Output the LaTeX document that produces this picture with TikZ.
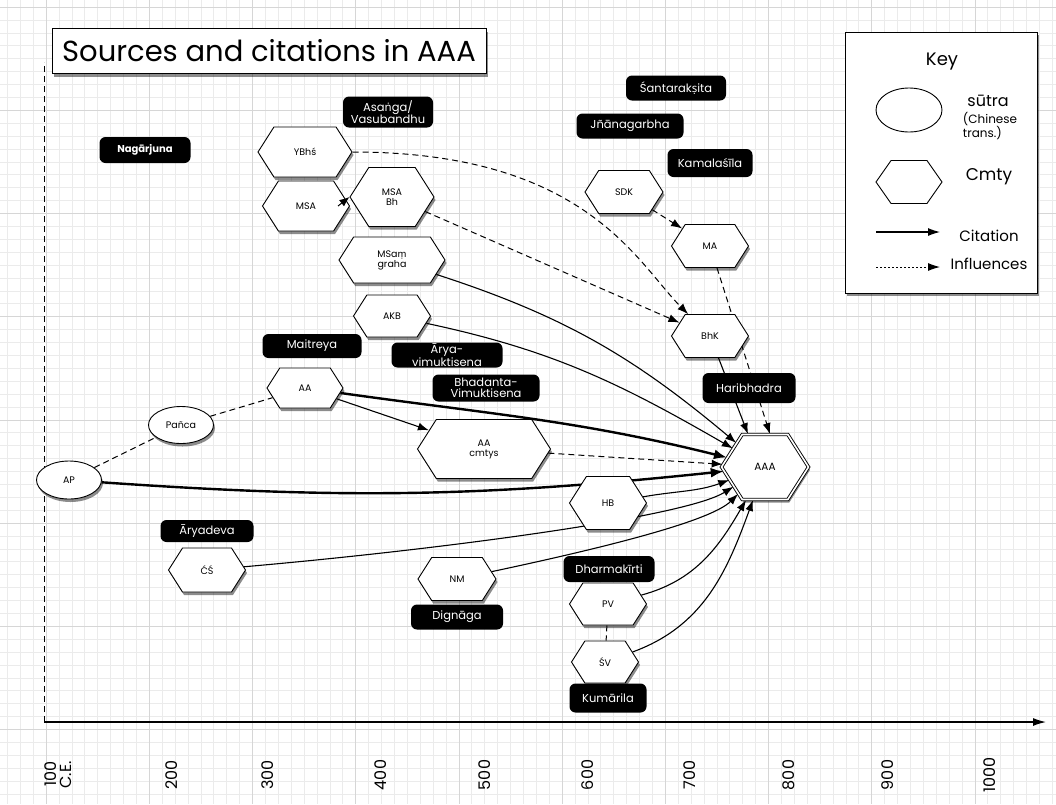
\documentclass[tikz,border=0pt]{standalone}
\usepackage{fontspec}
\setmainfont{Poppins}
\newfontfamily\iastfont{Noto Sans}
\newcommand{\iast}[1]{{\iastfont #1}}
\usetikzlibrary{shapes.geometric,shapes.symbols,arrows.meta,shadows}

\pgfdeclarelayer{paper}
\pgfdeclarelayer{links}
\pgfsetlayers{paper,links,main}

\tikzset{
  person/.style={fill=black, text=white, rounded corners=6pt, align=center, inner sep=1pt,
    font=\fontsize{11.5}{11}\selectfont},
  soft shadow/.style={drop shadow={fill=black, opacity=0.45, shadow xshift=1.5pt, shadow yshift=-3pt}},
  cmty/.style={signal, signal to=west and east, signal pointer angle=115, draw, fill=white,
    line width=0.9pt, inner sep=0pt, align=center, font=\fontsize{9.5}{10}\selectfont, soft shadow},
  sutra/.style={ellipse, draw, fill=white, line width=0.9pt, inner sep=0pt,
    font=\fontsize{9.5}{10}\selectfont, soft shadow},
  dims/.style 2 args={minimum width=#1pt, minimum height=#2pt},
  cite/.style={line width=1.1pt, -{Latex[length=11pt,width=8pt]}},
  bigcite/.style={line width=2.4pt, -{Latex[length=13pt,width=10pt]}},
  infl/.style={line width=1pt, dash pattern=on 6pt off 4pt, -{Latex[length=11pt,width=8pt]}},
  link/.style={line width=1pt, dash pattern=on 6pt off 4pt},
  gridminor/.style={draw=black!8, line width=1pt},
  gridmajor/.style={draw=black!16, line width=1pt},
  year/.style={rotate=90, font=\fontsize{16}{15}\selectfont, align=right},
  keytext/.style={font=\fontsize{15}{15}\selectfont},
}

\begin{document}
\begin{tikzpicture}[x=1pt, y=1pt]
  \useasboundingbox (0,0) rectangle (1056,-804);

  % squared paper
  \begin{pgfonlayer}{paper}
    \begin{scope}
      \clip (0,0) rectangle (1056,-804);
      \fill[white] (0,0) rectangle (1056,-804);
      \foreach \k in {-4,...,79} \draw[gridminor] ({46.2+\k*12.9},0) -- ++(0,-804);
      \foreach \k in {-1,...,62} \draw[gridminor] (0,{-7.2-\k*12.9}) -- ++(1056,0);
      \foreach \k in {0,...,9} \draw[gridmajor] ({46.2+\k*103.2},0) -- ++(0,-804);
      \foreach \k in {0,...,7} \draw[gridmajor] (0,{-7.2-\k*103.2}) -- ++(1056,0);
    \end{scope}
  \end{pgfonlayer}

  % time axis
  \coordinate (origin) at (44,-722);
  \coordinate (xend) at (1046,-722);
  \coordinate (ytop) at (44,-62);
  \draw[line width=1pt, dash pattern=on 6pt off 4pt] (origin) -- (ytop);
  \draw[line width=1.3pt, -{Latex[length=13pt,width=8pt]}] (origin) -- (xend);
  \node[year] (year100) at (58,-775) {100\\C.E.};
  \foreach \yr/\xx in {200/172,300/268,400/381,500/485,600/588,700/690,800/789,900/888,1000/990}
    \node[year] (year\yr) at (\xx,-775) {\yr};

  % title
  \node[draw, fill=white, line width=1pt, dims={434}{45}, font=\fontsize{29}{29}\selectfont,
    soft shadow] (title) at (269,-51) {Sources and citations in AAA};

  % key
  \node[draw, fill=white, line width=1pt, dims={192}{261}, soft shadow] (key) at (941,-162.5) {};
  \node[font=\fontsize{18}{18}\selectfont] (keyhead) at (942,-62) {Key};
  \node[ellipse, draw, line width=0.9pt, dims={66}{44}] (keysutra) at (909,-110) {};
  \node[font=\fontsize{16}{16}\selectfont] (keysutratext) at (988,-101) {sūtra};
  \node[font=\fontsize{12}{11}\selectfont, align=left] (keychinese) at (990,-126) {(Chinese\\trans.)};
  \node[signal, signal to=west and east, signal pointer angle=110, draw, line width=0.9pt,
    dims={66}{43}] (keycmty) at (909,-182) {};
  \node[font=\fontsize{17}{17}\selectfont] (keycmtytext) at (989,-177) {Cmty};
  \coordinate (citeA) at (876,-232);
  \coordinate (citeB) at (940,-232);
  \draw[line width=1.1pt, -{Latex[length=12pt,width=8pt]}] (citeA) -- (citeB);
  \node[keytext] (keycite) at (989,-236) {Citation};
  \coordinate (inflA) at (876,-267);
  \coordinate (inflB) at (940,-267);
  \draw[line width=1pt, dash pattern=on 2pt off 2pt, -{Latex[length=12pt,width=8pt]}] (inflA) -- (inflB);
  \node[keytext] (keyinfl) at (989,-264) {Influences};

  % authors
  \node[person, dims={91}{26}, font=\bfseries\fontsize{10}{10}\selectfont] (nagarjuna) at (145,-150) {Nagārjuna};
  \node[person, dims={90}{31}] (asanga) at (388,-112) {Asa\iast{ṅ}ga/\\Vasubandhu};
  \node[person, dims={100}{25}] (santa) at (676,-88) {Śantarak\iast{ṣ}ita};
  \node[person, dims={107}{25}] (jnana) at (630,-126) {Jñānagarbha};
  \node[person, dims={85}{28}] (kamala) at (710,-163) {Kamalaśīla};
  \node[person, dims={99}{24}] (maitreya) at (312,-346) {Maitreya};
  \node[person, dims={111}{25}] (arya) at (447,-355) {Ārya-\\vimuktisena};
  \node[person, dims={107}{27}] (bhadanta) at (486,-388) {Bhadanta-\\Vimuktisena};
  \node[person, dims={93}{30}] (haribhadra) at (749,-388) {Haribhadra};
  \node[person, dims={93}{22}] (aryadeva) at (207,-531) {Āryadeva};
  \node[person, dims={92}{25}] (dignaga) at (457,-617) {Dignāga};
  \node[person, dims={91}{26}] (dharmakirti) at (609,-569) {Dharmakīrti};
  \node[person, dims={77}{29}] (kumarila) at (608,-698) {Kumārila};

  % texts
  \node[cmty, dims={94}{50}] (YBhs) at (305,-152) {YBhś};
  \node[cmty, dims={87}{50}] (MSA) at (306,-206) {MSA};
  \node[cmty, dims={84}{59}] (MSABh) at (392,-197) {MSA\\Bh};
  \node[cmty, dims={106}{46}] (MSam) at (392,-260) {MSa\iast{ṃ}\\graha};
  \node[cmty, dims={77}{42}] (AKB) at (392,-316) {AKB};
  \node[cmty, dims={76}{40}] (AA) at (305,-388) {AA};
  \node[cmty, dims={133}{59}] (AAcmtys) at (484,-449) {AA\\cmtys};
  \node[cmty, dims={78}{43}] (SDK) at (624,-192) {SDK};
  \node[cmty, dims={77}{43}] (MA) at (710,-246) {MA};
  \node[cmty, dims={77}{43}] (BhK) at (710,-336) {BhK};
  \node[cmty, dims={87}{65}, double, double distance=1.6pt, font=\fontsize{10.5}{10}\selectfont] (AAA) at (765,-467) {AAA};
  \node[cmty, dims={77}{53}] (HB) at (608,-503) {HB};
  \node[cmty, dims={77}{44}] (CS) at (207,-570) {ĆŚ};
  \node[cmty, dims={78}{43}] (NM) at (457,-579) {NM};
  \node[cmty, dims={77}{42}] (PV) at (608,-604) {PV};
  \node[cmty, dims={67}{42}] (SV) at (605,-662) {ŚV};
  \node[sutra, dims={65}{37}] (panca) at (181,-425) {Pañca};
  \node[sutra, dims={65}{38}] (AP) at (69,-480) {AP};

  % MSA to its Bhāṣya, drawn over the two hexagons
  \draw[-{Latex[length=10pt,width=8pt]}, line width=1pt] ([xshift=-12pt]MSA.east) -- (MSABh.west);

  \begin{pgfonlayer}{links}
    % citations
    \draw[bigcite] (AP) to[out=-4, in=186] (AAA);
    \draw[bigcite] (AA) to[out=-8, in=166] (AAA);
    \draw[cite] (AA) -- (AAcmtys);
    \draw[cite] (MSam) to[out=-18, in=140] (AAA);
    \draw[cite] (AKB) to[out=-12, in=150] (AAA);
    \draw[cite] (HB) to[out=10, in=200] (AAA);
    \draw[cite] (CS) to[out=5, in=212, in looseness=0.3] (AAA);
    \draw[cite] (NM) to[out=12, in=225, in looseness=0.4] (AAA);
    \draw[cite] (PV) to[out=15, in=240] (AAA);
    \draw[cite] (SV) to[out=20, in=250] (AAA);
    \draw[cite] (BhK) -- ([xshift=-17pt]AAA.north);

    % influences
    \draw[infl] (AAcmtys) -- (AAA);
    \draw[infl] (MA) -- ([xshift=5pt]AAA.north);
    \draw[infl] (SDK) -- (MA);
    \draw[infl] (YBhs) to[out=0, in=135, out looseness=1.6, in looseness=0.5] (BhK);
    \draw[infl] (MSABh) -- (BhK);
    \draw[link] (AP) -- (panca);
    \draw[link] (panca) -- (AA);
    \draw[link] (PV) -- (SV);
  \end{pgfonlayer}
\end{tikzpicture}
\end{document}
